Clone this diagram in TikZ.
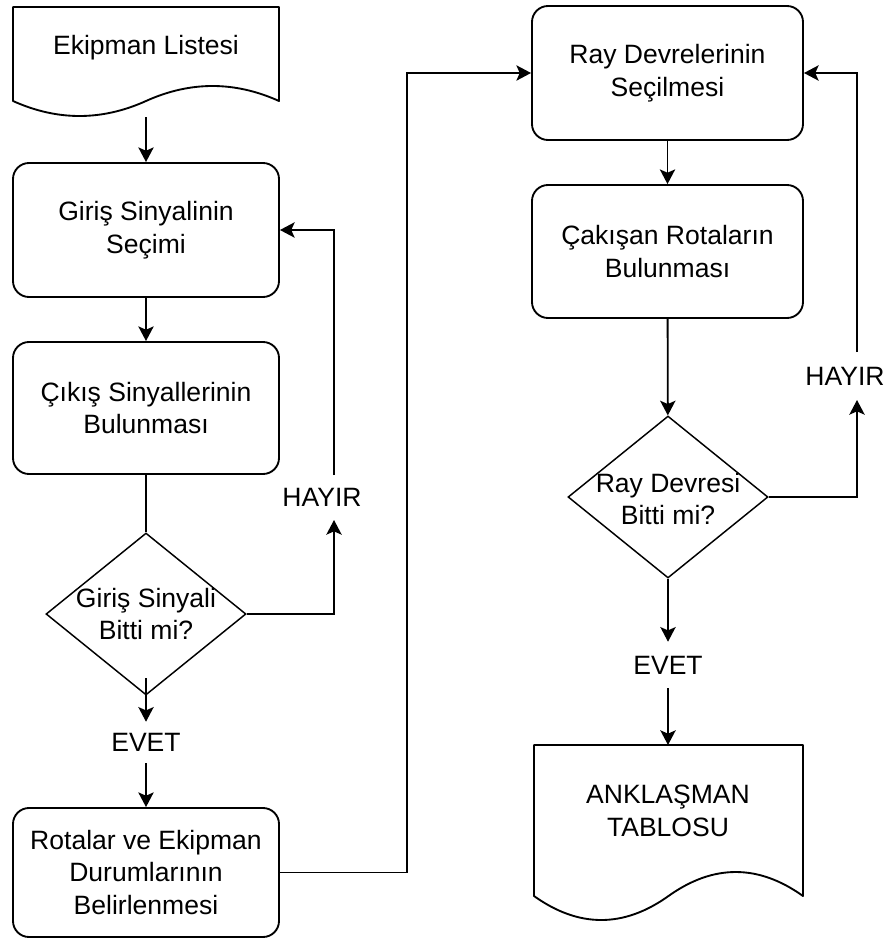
\documentclass[tikz,border=0pt]{standalone}
\usepackage{fontspec}
\setmainfont{Liberation Sans}
\usetikzlibrary{shapes.geometric,arrows.meta}
\newcommand\mydiagfont{\fontsize{19.9pt}{24.5pt}\selectfont}
\tikzset{
  box/.style={draw, rounded corners=12pt, line width=1.4pt, minimum width=199.5pt,
    align=center, inner sep=0pt, font=\mydiagfont},
  dia/.style={draw, diamond, line width=1.1pt, minimum width=150pt, minimum height=121.5pt, inner sep=0pt},
  txt/.style={align=center, inner sep=0pt, font=\mydiagfont},
  lbl/.style={inner sep=0pt, font=\mydiagfont},
  docline/.style={draw, line width=1.4pt, line join=round},
  ln/.style={line width=1.4pt},
  arr/.style={line width=1.4pt, -{Stealth[length=11pt, width=11.5pt, inset=2.5pt]}},
}
\begin{document}
\begin{tikzpicture}[x=0.75pt, y=-0.75pt]
\useasboundingbox (0,0) rectangle (885,939);

% documents
\draw[docline] (13,101) -- (13,7) -- (279,7) -- (279,101)
  .. controls (234.7,81) and (190.3,81) .. (146,101)
  .. controls (101.7,121) and (57.3,121) .. (13,101) -- cycle;
\node[txt] (ekip) at (146,48) {Ekipman Listesi};
\coordinate (ekipb) at (146,117);

\draw[docline] (534,896) -- (534,745) -- (803,745) -- (803,896)
  .. controls (758.2,864) and (713.3,864) .. (668.5,896)
  .. controls (623.7,928) and (578.8,928) .. (534,896) -- cycle;
\node[txt] (ank) at (668,811) {ANKLAŞMAN\\TABLOSU};
\coordinate (ankt) at (668,745);

% left column
\node[box, minimum height=100.5pt] (giris) at (146,230) {Giriş Sinyalinin\\Seçimi};
\node[box, minimum height=99pt] (cikis) at (146,408) {Çıkış Sinyallerinin\\Bulunması};
\node[dia] (d1) at (146,614) {};
\node[txt] (d1t) at (146,614) {Giriş Sinyali\\Bitti mi?};
\node[lbl, minimum height=30.75pt] (evet1) at (146,742.5) {EVET};
\node[box, minimum height=96.75pt] (rot) at (146,872.5) {Rotalar ve Ekipman\\Durumlarının\\Belirlenmesi};
\node[lbl] (hay1) at (322,497.5) {HAYIR};
\coordinate (h1b) at (334,520);
\coordinate (h1t) at (334,475);
\coordinate (d1in) at (146,678);

% right column
\node[box, minimum width=203.25pt, minimum height=100.5pt] (ray) at (667.5,73) {Ray Devrelerinin\\Seçilmesi};
\node[box, minimum width=203.25pt, minimum height=99.75pt] (cak) at (667.5,251.5) {Çakışan Rotaların\\Bulunması};
\node[dia] (d2) at (668,497) {};
\node[txt] (d2t) at (668,499) {Ray Devresi\\Bitti mi?};
\node[lbl, minimum height=34.5pt] (evet2) at (668,665) {EVET};
\node[lbl] (hay2) at (845,376) {HAYIR};
\coordinate (h2b) at (857,400);
\coordinate (h2t) at (857,352);
\coordinate (jn) at (407,400);

% connectors
\draw[arr] (ekipb) -- (giris);
\draw[arr] (giris) -- (cikis);
\draw[ln] (cikis) -- (d1);
\draw[arr] (d1.east) -| (h1b);
\draw[arr] (h1t) |- (giris.east);
\draw[arr] (d1in) -- (evet1);
\draw[arr] (evet1) -- (rot);
\draw[arr] (rot.east) -| (jn) |- (ray.west);
\draw[arr] (ray) -- (cak);
\draw[arr] (cak) -- (d2);
\draw[arr] (d2.east) -| (h2b);
\draw[arr] (h2t) |- (ray.east);
\draw[arr] (d2) -- (evet2);
\draw[arr] (evet2) -- (ankt);
\end{tikzpicture}
\end{document}
